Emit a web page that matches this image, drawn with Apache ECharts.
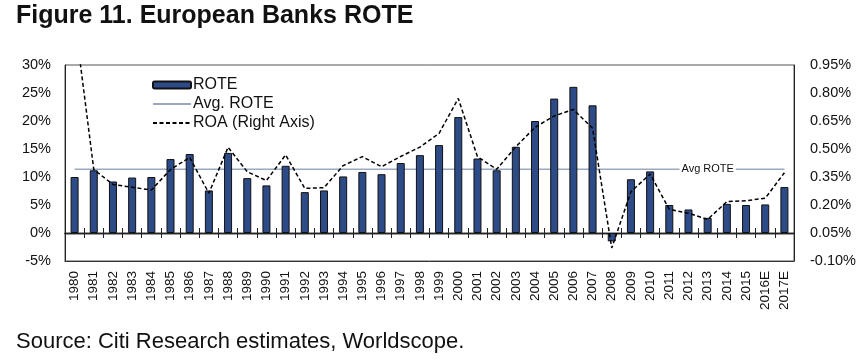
<!DOCTYPE html>
<html>
<head>
<meta charset="utf-8">
<script src="https://cdn.jsdelivr.net/npm/echarts@6/dist/echarts.min.js"></script>
<style>
html,body{margin:0;padding:0;background:#fff;}
#chart{width:867px;height:361px;}
</style>
</head>
<body>
<div id="chart"></div>
<script>
var categories = ['1980','1981','1982','1983','1984','1985','1986','1987','1988','1989',
  '1990','1991','1992','1993','1994','1995','1996','1997','1998','1999',
  '2000','2001','2002','2003','2004','2005','2006','2007','2008','2009',
  '2010','2011','2012','2013','2014','2015','2016E','2017E'];
var roteValues = [10.0, 11.2, 9.2, 9.9, 10.0, 13.2, 14.1, 7.6, 14.3, 9.8,
  8.5, 12.0, 7.3, 7.6, 10.1, 10.9, 10.5, 12.5, 13.9, 15.7,
  20.7, 13.3, 11.2, 15.4, 20.0, 24.0, 26.1, 22.8, -1.5, 9.6,
  11.0, 5.0, 4.2, 2.7, 5.2, 5.0, 5.1, 8.2];
var roaValues = [1.2, 0.39, 0.31, 0.295, 0.28, 0.39, 0.455, 0.263, 0.509, 0.378,
  0.331, 0.468, 0.289, 0.293, 0.411, 0.459, 0.405, 0.46, 0.51, 0.584,
  0.771, 0.459, 0.391, 0.512, 0.616, 0.677, 0.712, 0.611, -0.03, 0.271,
  0.366, 0.177, 0.156, 0.123, 0.218, 0.223, 0.236, 0.373];
var avgRote = 11.4;
var avgLabelCategory = '2013';
var leftTicks = {min: -5, max: 30, interval: 5};
var rightTicks = {min: -0.1, max: 0.95, interval: 0.15};

var avgLine = categories.map(function(){ return avgRote; });

var chart = echarts.init(document.getElementById('chart'), null, {renderer: 'canvas'});
var FONT = "'Liberation Sans', Arial, sans-serif";
var catAxisBase = {
  type: 'category', data: categories, gridIndex: 0
};
var HIDDEN_SYMBOL = {color: 'rgba(0,0,0,0)', borderColor: 'rgba(0,0,0,0)', borderWidth: 0};
chart.setOption({
  animation: false,
  backgroundColor: '#fff',
  textStyle: {fontFamily: FONT},
  title: [{
    text: 'Figure 11. European Banks ROTE',
    left: 16, top: 4, padding: 0,
    textStyle: {fontFamily: "'Liberation Sans Narrow', 'Arial Narrow', " + FONT, fontSize: 25, fontWeight: 'bold', color: '#111'}
  }, {
    text: 'Source: Citi Research estimates, Worldscope.',
    left: 16, top: 331, padding: 0,
    textStyle: {fontFamily: FONT, fontSize: 22, fontWeight: 'normal', color: '#111'}
  }],
  legend: {
    orient: 'vertical', left: 152, top: 77, padding: 0,
    itemWidth: 38, itemHeight: 7, itemGap: 3,
    textStyle: {fontSize: 16, color: '#111', fontFamily: FONT, padding: [0,0,0,-3]},
    data: ['ROTE', 'Avg. ROTE', 'ROA (Right Axis)']
  },
  grid: {
    left: 65, right: 73, top: 65, bottom: 100,
    show: true, borderColor: '#555', borderWidth: 1, backgroundColor: 'transparent'
  },
  xAxis: [
    Object.assign({}, catAxisBase, {
      position: 'bottom',
      axisLine: {show: true, onZero: false, lineStyle: {color: '#333', width: 1}},
      axisTick: {show: false},
      splitLine: {show: false},
      axisLabel: {rotate: 90, interval: 0, fontSize: 13.5, color: '#111', margin: 10, fontFamily: FONT}
    }),
    Object.assign({}, catAxisBase, {
      position: 'bottom',
      axisLine: {show: true, onZero: true, onZeroAxisIndex: 0, lineStyle: {color: '#222', width: 1.3}},
      axisTick: {show: true, inside: false, length: 5, interval: 0, lineStyle: {color: '#222', width: 1}},
      axisLabel: {show: false},
      splitLine: {show: false}
    }),
    Object.assign({}, catAxisBase, {
      position: 'bottom',
      axisLine: {show: true, onZero: true, onZeroAxisIndex: 0, lineStyle: {color: '#222', width: 1.3}},
      axisTick: {show: true, inside: true, length: 5, interval: 0, lineStyle: {color: '#222', width: 1}},
      axisLabel: {show: false},
      splitLine: {show: false}
    })
  ],
  yAxis: [{
    type: 'value', position: 'left',
    min: leftTicks.min, max: leftTicks.max, interval: leftTicks.interval,
    axisLine: {show: true, lineStyle: {color: '#222'}},
    axisTick: {show: false},
    splitLine: {show: false},
    axisLabel: {formatter: '{value}%', fontSize: 14.5, color: '#111', margin: 14, fontFamily: FONT}
  }, {
    type: 'value', position: 'right',
    min: rightTicks.min, max: rightTicks.max, interval: rightTicks.interval,
    axisLine: {show: true, lineStyle: {color: '#222'}},
    axisTick: {show: false},
    splitLine: {show: false},
    axisLabel: {formatter: function(v){ return v.toFixed(2) + '%'; }, fontSize: 14.5, color: '#111', margin: 16, fontFamily: FONT}
  }],
  series: [{
    name: 'ROTE', type: 'bar', xAxisIndex: 0, yAxisIndex: 0,
    data: roteValues, barWidth: 8,
    itemStyle: {color: '#2d4b86', borderColor: '#111', borderWidth: 1}
  }, {
    name: 'Avg. ROTE', type: 'line', xAxisIndex: 0, yAxisIndex: 0,
    data: avgLine, symbol: 'none',
    itemStyle: HIDDEN_SYMBOL,
    lineStyle: {color: '#9aa9c0', width: 1.5},
    z: 1,
    markPoint: {
      symbol: 'rect', symbolSize: [1, 1],
      itemStyle: {color: 'rgba(0,0,0,0)'},
      label: {show: true, position: 'inside', formatter: 'Avg ROTE', fontSize: 11, color: '#111', backgroundColor: '#fff', padding: [1, 2], fontFamily: FONT},
      data: [{coord: [avgLabelCategory, avgRote]}]
    }
  }, {
    name: 'ROA (Right Axis)', type: 'line', xAxisIndex: 0, yAxisIndex: 1,
    data: roaValues, symbol: 'none', clip: true,
    itemStyle: HIDDEN_SYMBOL,
    lineStyle: {color: '#000', width: 1.5, type: [4, 2.5]},
    z: 3
  }]
});
</script>
</body>
</html>
